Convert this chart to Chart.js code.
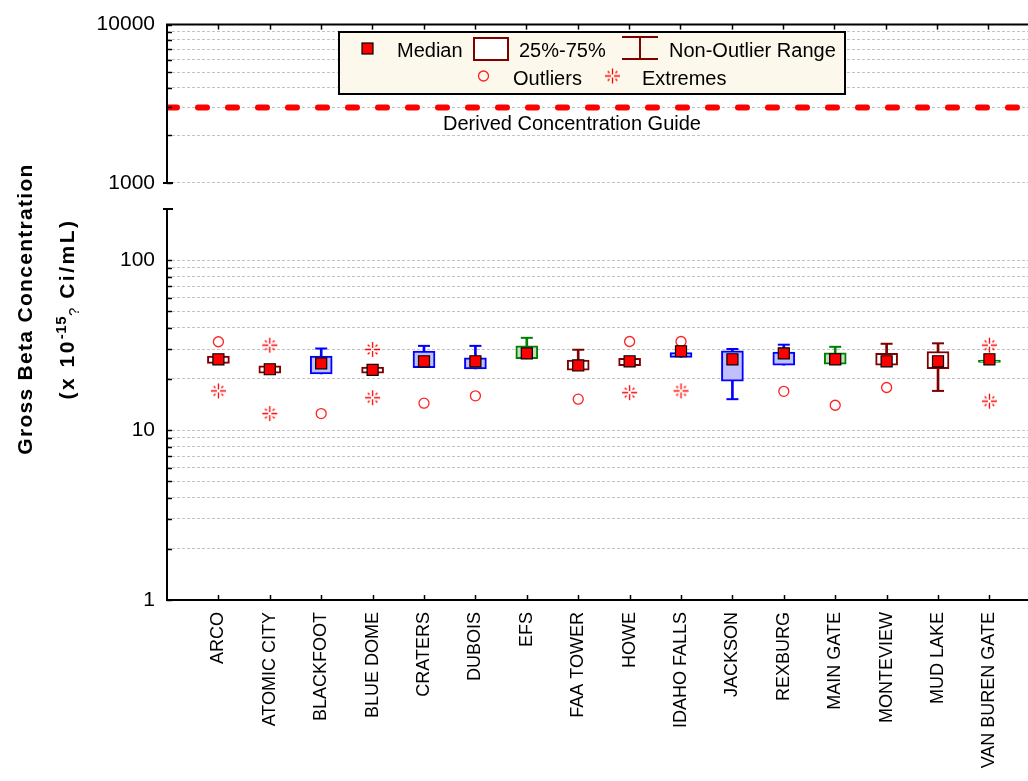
<!DOCTYPE html>
<html>
<head>
<meta charset="utf-8">
<script src="https://cdn.jsdelivr.net/npm/chart.js@4.4.0/dist/chart.umd.min.js"></script>
<style>
html,body{margin:0;padding:0;overflow:hidden;background:#fff;width:1028px;height:781px;}
canvas{position:absolute;left:0;top:0;}
#ytitle{position:absolute;left:-114px;top:267px;width:320px;height:84px;transform:rotate(-90deg);
  font-family:'Liberation Sans',Arial,sans-serif;font-weight:bold;font-size:21px;letter-spacing:1.3px;text-align:center;color:#000;}
#ytitle div{height:42px;line-height:42px;white-space:nowrap;}
#ytitle div.l2{letter-spacing:2.5px;}
#ytitle sup,#ytitle sub{font-size:15px;line-height:0;letter-spacing:0.5px;}
#ytitle sub{font-weight:normal;}
</style>
</head>
<body>
<canvas id="topChart" width="1028" height="781"></canvas>
<canvas id="botChart" width="1038" height="781"></canvas>
<div id="ytitle"><div>Gross Beta Concentration</div><div class="l2">(x 10<sup>-15</sup><sub>?</sub> Ci/mL)</div></div>
<script>
// ---------------- DATA ----------------
const categories = ['ARCO','ATOMIC CITY','BLACKFOOT','BLUE DOME','CRATERS','DUBOIS','EFS','FAA TOWER',
  'HOWE','IDAHO FALLS','JACKSON','REXBURG','MAIN GATE','MONTEVIEW','MUD LAKE','VAN BUREN GATE'];
const medians     = [26.1, 22.8, 24.7, 22.6, 25.4, 25.4, 28.3, 24.0, 25.4, 29.1, 26.1, 28.3, 26.1, 25.4, 25.4, 26.1];
const q1          = [24.7, 21.6, 21.4, 21.6, 23.3, 22.9, 26.3, 22.5, 23.9, 26.8, 19.4, 24.1, 24.4, 24.1, 23.0, 25.0];
const q3          = [27.3, 23.9, 27.3, 23.5, 29.2, 26.6, 31.3, 25.8, 26.4, 28.6, 29.3, 28.8, 28.5, 28.3, 29.0, 25.8];
const whiskerLow  = [24.7, 21.6, 21.4, 21.6, 23.3, 22.9, 26.3, 22.5, 23.9, 26.8, 15.2, 24.1, 24.4, 24.1, 17.0, 25.0];
const whiskerHigh = [27.3, 23.9, 30.2, 23.5, 31.3, 31.3, 34.9, 29.7, 26.4, 28.6, 30.0, 31.8, 30.9, 32.2, 32.4, 25.8];
const outliers = [[33.1],[],[12.5],[],[14.4],[15.9],[],[15.2],[33.2],[33.2],[],[16.9],[14.0],[17.8],[],[]];
const extremes = [[17.0],[31.6,12.5],[],[29.8,15.5],[],[],[],[],[16.6],[17.0],[],[],[],[],[],[31.6,14.8]];
const boxGroup = ['red','red','blue','red','blue','blue','green','red','red','blue','blue','blue','green','red','red','green'];
const dcgValue = 3000;
const dcgLabel = 'Derived Concentration Guide';
const yLabelsTop = [1000, 10000];
const yLabelsBottom = [1, 10, 100];
const legendItems = ['Median', '25%-75%', 'Non-Outlier Range', 'Outliers', 'Extremes'];
const xRange = {min: -1, max: 15.77};

// ---------------- STYLE ----------------
const FAMILY = "'Liberation Sans', Arial, Helvetica, sans-serif";
const palette = {
  red:   {border:'#800000', fill:'#ffffff'},
  blue:  {border:'#0000ff', fill:'#c0c0ff'},
  green: {border:'#008000', fill:'#c0e0c0'}
};
const borderCols = boxGroup.map(g => palette[g].border);
const fillCols = boxGroup.map(g => palette[g].fill);

function gridValues(lo, hi) {
  const out = [];
  for (let e = Math.round(Math.log10(lo)); Math.pow(10, e) <= hi; e++) {
    for (let m = 1; m <= 9; m++) {
      const v = Math.round(m * Math.pow(10, e));
      if (v >= lo && v <= hi) out.push(v);
    }
  }
  return out;
}

function makeAsterisk() {
  const c = document.createElement('canvas');
  c.width = 17; c.height = 17;
  const g = c.getContext('2d');
  g.strokeStyle = '#ff0000'; g.lineWidth = 1.3;
  const cx = 8.5, cy = 8.5;
  const rays = [[1,0,1.5,7.5],[-1,0,1.5,7.5],[0,1,1.5,7.5],[0,-1,1.5,7.5],
    [0.7071,0.7071,4.2,6.8],[-0.7071,0.7071,4.2,6.8],[0.7071,-0.7071,4.2,6.8],[-0.7071,-0.7071,4.2,6.8]];
  g.beginPath();
  rays.forEach(([dx,dy,r0,r1]) => { g.moveTo(cx+dx*r0, cy+dy*r0); g.lineTo(cx+dx*r1, cy+dy*r1); });
  g.stroke();
  return c;
}
const asterisk = makeAsterisk();

const AXIS_X = 167;
function drawYInnerTicks(ctx, yScale) {
  ctx.save();
  ctx.strokeStyle = '#000'; ctx.lineWidth = 1.5;
  yScale.ticks.forEach(t => {
    const y = Math.round(yScale.getPixelForValue(t.value)) + 0.5;
    ctx.beginPath(); ctx.moveTo(AXIS_X, y); ctx.lineTo(AXIS_X + 5, y); ctx.stroke();
  });
  ctx.restore();
}

// ---------------- TOP PANEL ----------------
const topDecor = {
  id: 'topDecor',
  afterDraw(chart) {
    const ctx = chart.ctx, a = chart.chartArea, xs = chart.scales.x, ys = chart.scales.y;
    ctx.save();
    ctx.strokeStyle = '#000'; ctx.lineWidth = 2;
    ctx.beginPath();
    ctx.moveTo(a.left, a.bottom); ctx.lineTo(a.left, a.top); ctx.lineTo(a.right, a.top);
    ctx.moveTo(a.left - 4, a.bottom); ctx.lineTo(a.left + 6, a.bottom);
    ctx.stroke();
    ctx.lineWidth = 1.5;
    categories.forEach((_, i) => {
      const x = Math.round(xs.getPixelForValue(i)) + 0.5;
      ctx.beginPath(); ctx.moveTo(x, a.top); ctx.lineTo(x, a.top + 5); ctx.stroke();
    });
    ctx.restore();
    drawYInnerTicks(ctx, ys);

    ctx.save();
    ctx.fillStyle = '#000';
    ctx.font = '20px ' + FAMILY;
    ctx.textBaseline = 'alphabetic';
    ctx.textAlign = 'center';
    ctx.fillText(dcgLabel, 572, 130);

    // legend
    ctx.fillStyle = '#fdf8ec';
    ctx.fillRect(339, 32, 506, 62);
    ctx.strokeStyle = '#000'; ctx.lineWidth = 2;
    ctx.strokeRect(339, 32, 506, 62);
    ctx.textAlign = 'left';
    ctx.fillStyle = '#ff0000'; ctx.fillRect(362, 43, 11, 11);
    ctx.strokeStyle = '#000'; ctx.lineWidth = 1.2; ctx.strokeRect(362, 43, 11, 11);
    ctx.fillStyle = '#000'; ctx.fillText(legendItems[0], 397, 57);
    ctx.fillStyle = '#fff'; ctx.fillRect(474, 38, 34, 22);
    ctx.strokeStyle = '#800000'; ctx.lineWidth = 2; ctx.strokeRect(474, 38, 34, 22);
    ctx.fillStyle = '#000'; ctx.fillText(legendItems[1], 519, 57);
    ctx.beginPath();
    ctx.moveTo(622, 37); ctx.lineTo(658, 37);
    ctx.moveTo(640, 37); ctx.lineTo(640, 59);
    ctx.moveTo(622, 59); ctx.lineTo(658, 59);
    ctx.stroke();
    ctx.fillText(legendItems[2], 669, 57);
    ctx.strokeStyle = '#ff2020'; ctx.lineWidth = 1.3;
    ctx.beginPath(); ctx.arc(483.5, 76, 5, 0, Math.PI * 2); ctx.stroke();
    ctx.fillText(legendItems[3], 513, 85);
    ctx.drawImage(asterisk, 612.5 - 8.5, 76 - 8.5);
    ctx.fillText(legendItems[4], 642, 85);
    ctx.restore();
  }
};

function yAxis(min, max, grid, labels) {
  return {
    type: 'logarithmic', min, max, position: 'left',
    afterFit(s) { s.width = AXIS_X; },
    afterBuildTicks(s) { s.ticks = grid.map(v => ({value: v})); },
    ticks: {
      autoSkip: false, padding: 12, color: '#000',
      font: {size: 21, family: FAMILY},
      callback: v => labels.includes(v) ? String(v) : ''
    },
    grid: {color: '#c4c4c4', lineWidth: 1, drawTicks: false},
    border: {display: false, dash: [3, 2]}
  };
}

new Chart(document.getElementById('topChart'), {
  type: 'scatter',
  data: {
    datasets: [{
      label: dcgLabel,
      data: [{x: xRange.min, y: dcgValue}, {x: xRange.max, y: dcgValue}],
      showLine: true, borderColor: '#ff0000', borderWidth: 6,
      borderDash: [9, 21], borderDashOffset: -1, borderCapStyle: 'round',
      pointRadius: 0
    }]
  },
  options: {
    responsive: false, animation: false, events: [],
    layout: {padding: {top: 18, bottom: 598, left: 0, right: 0}},
    plugins: {legend: {display: false}, tooltip: {enabled: false}},
    scales: {
      x: {type: 'linear', min: xRange.min, max: xRange.max, offset: false, display: false},
      y: yAxis(1000, 10000, gridValues(1000, 10000), yLabelsTop)
    }
  },
  plugins: [topDecor]
});

// ---------------- BOTTOM PANEL ----------------
const idx = categories.map((_, i) => i);
const outlierPts = [], extremePts = [];
outliers.forEach((arr, i) => arr.forEach(v => outlierPts.push({x: i, y: v})));
extremes.forEach((arr, i) => arr.forEach(v => extremePts.push({x: i, y: v})));

const botDecor = {
  id: 'botDecor',
  afterDraw(chart) {
    const ctx = chart.ctx, a = chart.chartArea, xs = chart.scales.x, ys = chart.scales.y;
    ctx.save();
    ctx.strokeStyle = '#000'; ctx.lineWidth = 2;
    ctx.beginPath();
    ctx.moveTo(a.left - 4, a.top); ctx.lineTo(a.left + 6, a.top);
    ctx.moveTo(a.left, a.top); ctx.lineTo(a.left, a.bottom); ctx.lineTo(a.right + 12, a.bottom);
    ctx.stroke();
    ctx.lineWidth = 1.5;
    categories.forEach((_, i) => {
      const x = Math.round(xs.getPixelForValue(i)) + 0.5;
      ctx.beginPath(); ctx.moveTo(x, a.bottom); ctx.lineTo(x, a.bottom - 5); ctx.stroke();
    });
    ctx.restore();
    drawYInnerTicks(ctx, ys);
  }
};

new Chart(document.getElementById('botChart'), {
  type: 'bar',
  data: {
    datasets: [
      {
        type: 'bar', label: 'Non-Outlier Range',
        data: idx.map(i => ({x: i, y: [whiskerLow[i], whiskerHigh[i]]})),
        backgroundColor: borderCols, borderWidth: 0, barThickness: 2, grouped: false, order: 5
      },
      {
        type: 'scatter', label: 'capLow',
        data: idx.map(i => ({x: i, y: whiskerLow[i] < q1[i] ? whiskerLow[i] : null})),
        pointStyle: 'line', pointRadius: 6, pointBorderColor: borderCols, pointBorderWidth: 2, order: 4
      },
      {
        type: 'scatter', label: 'capHigh',
        data: idx.map(i => ({x: i, y: whiskerHigh[i] > q3[i] ? whiskerHigh[i] : null})),
        pointStyle: 'line', pointRadius: 6, pointBorderColor: borderCols, pointBorderWidth: 2, order: 4
      },
      {
        type: 'bar', label: '25%-75%',
        data: idx.map(i => ({x: i, y: [q1[i], q3[i]]})),
        backgroundColor: fillCols, borderColor: borderCols, borderWidth: 2,
        borderSkipped: false, barThickness: 22, grouped: false, order: 3
      },
      {
        type: 'scatter', label: 'Outliers', data: outlierPts,
        pointStyle: 'circle', pointRadius: 5, pointBackgroundColor: 'rgba(0,0,0,0)',
        pointBorderColor: '#ff2020', pointBorderWidth: 1.3, order: 1
      },
      {
        type: 'scatter', label: 'Extremes', data: extremePts,
        pointStyle: asterisk, order: 1
      },
      {
        type: 'scatter', label: 'Median',
        data: idx.map(i => ({x: i, y: medians[i]})),
        pointStyle: 'rect', pointRadius: 7.8, pointBackgroundColor: '#ff0000',
        pointBorderColor: '#000', pointBorderWidth: 1.2, order: 0
      }
    ]
  },
  options: {
    responsive: false, animation: false, events: [],
    layout: {padding: {top: 209, bottom: 0, left: 0, right: 0}},
    plugins: {legend: {display: false}, tooltip: {enabled: false}},
    scales: {
      x: {
        type: 'linear', min: xRange.min, max: xRange.max, position: 'bottom', offset: false,
        afterBuildTicks(s) { s.ticks = idx.map(i => ({value: i})); },
        afterFit(s) { s.height = 181; },
        ticks: {
          autoSkip: false, minRotation: 90, maxRotation: 90, padding: 12, color: '#000',
          font: {size: 18, family: FAMILY},
          callback: v => categories[v] ?? ''
        },
        grid: {display: false, drawTicks: false, offset: false},
        border: {display: false}
      },
      y: yAxis(1, 200, gridValues(1, 100), yLabelsBottom)
    }
  },
  plugins: [botDecor]
});
</script>
</body>
</html>
